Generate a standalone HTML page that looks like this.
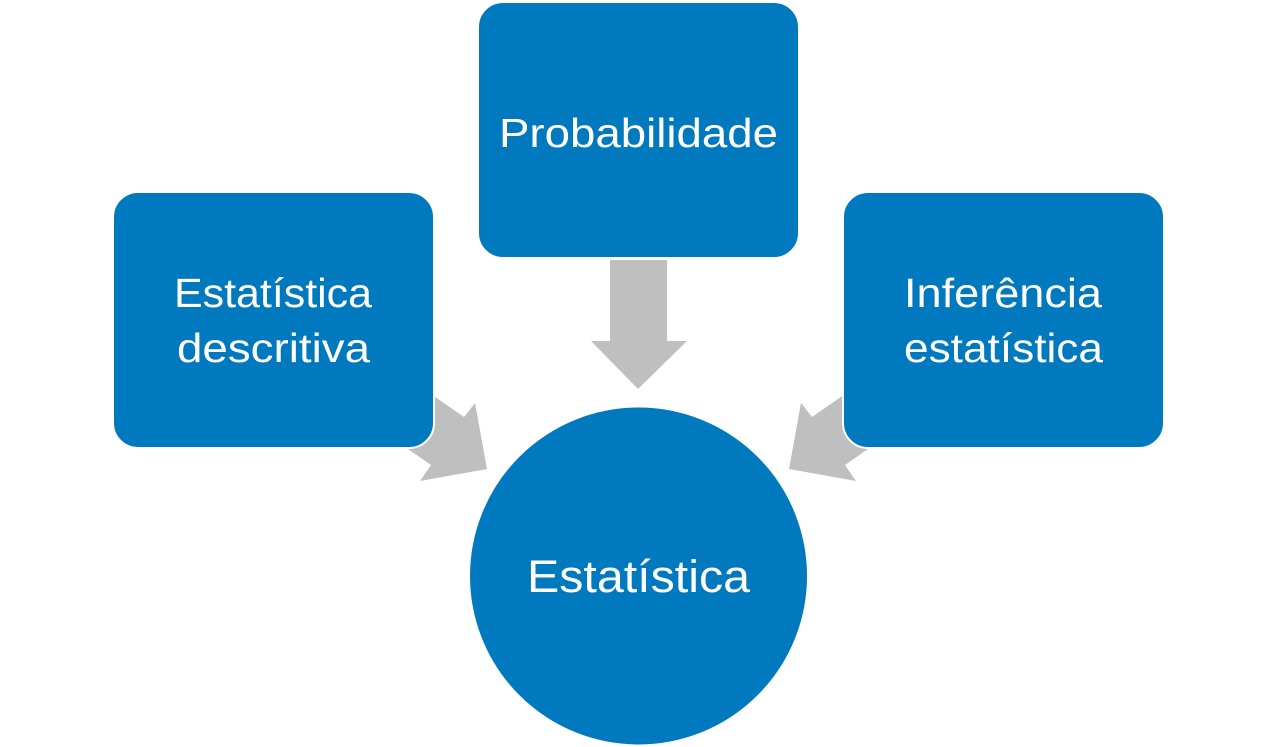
<!DOCTYPE html>
<html><head><meta charset="utf-8"><style>html,body{margin:0;padding:0;background:#fff}svg{display:block}</style></head>
<body>
<svg width="1278" height="747" viewBox="0 0 1278 747" xmlns="http://www.w3.org/2000/svg">
<g fill="#BFBFBF">
<polygon points="610,260 667,260 667,341 687,341 638,389 591,341 610,341"/>
<polygon points="415,383 464,417 475,403 487,469 420,481 431,465 382,431"/>
<polygon points="861,383 812,417 801,403 789,469 856,481 845,465 894,431"/>
</g>
<g fill="#0079BF" stroke="#fff" stroke-width="2">
<rect x="478" y="2" width="321" height="256" rx="25"/>
<rect x="113" y="192" width="321" height="256" rx="25"/>
<rect x="843" y="192" width="321" height="256" rx="25"/>
<circle cx="638.5" cy="576" r="169.5"/>
</g>
<g fill="#fff" font-family="Liberation Sans, sans-serif" font-size="41">
<text x="499" y="147" textLength="279" lengthAdjust="spacingAndGlyphs">Probabilidade</text>
<text x="174" y="307" textLength="198" lengthAdjust="spacingAndGlyphs">Estatística</text>
<text x="177" y="362" textLength="193" lengthAdjust="spacingAndGlyphs">descritiva</text>
<text x="904" y="307" textLength="198" lengthAdjust="spacingAndGlyphs">Inferência</text>
<text x="904" y="362" textLength="199" lengthAdjust="spacingAndGlyphs">estatística</text>
<text x="527" y="592" font-size="45" textLength="223" lengthAdjust="spacingAndGlyphs">Estatística</text>
</g>
</svg>
</body></html>
